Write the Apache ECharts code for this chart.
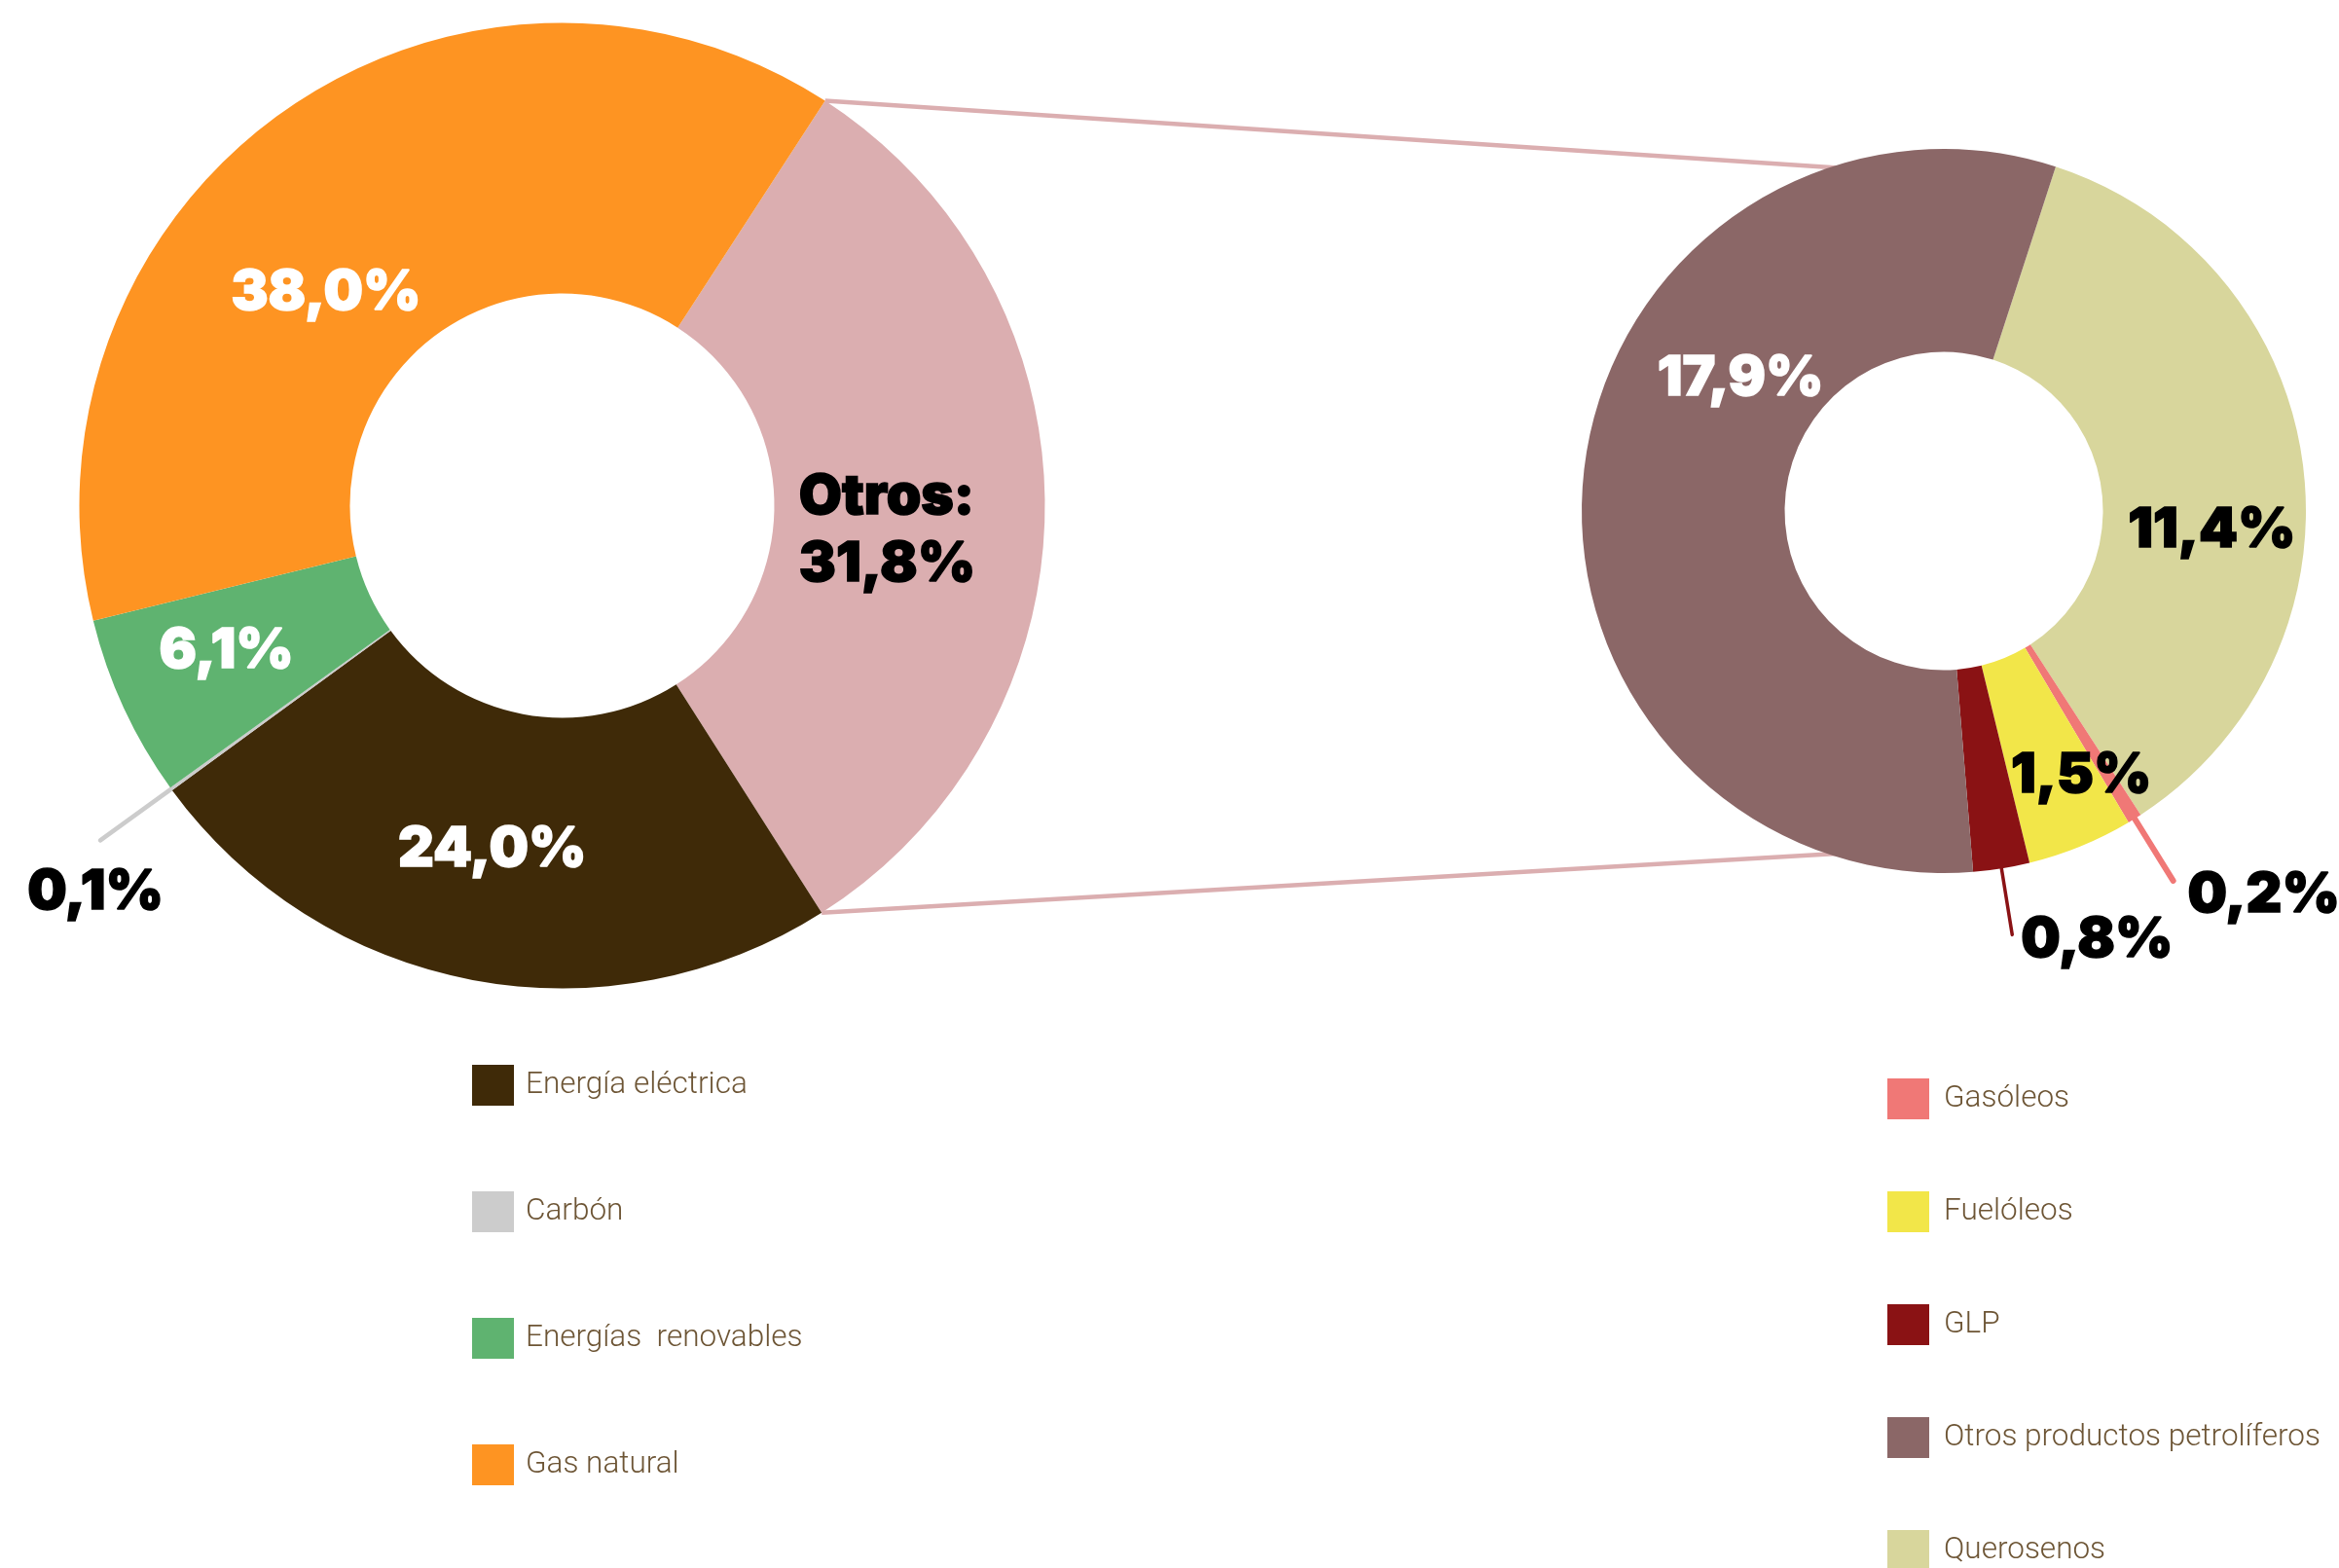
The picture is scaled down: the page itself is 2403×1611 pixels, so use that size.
<!DOCTYPE html>
<html>
<head>
<meta charset="utf-8">
<script src="https://cdn.jsdelivr.net/npm/echarts@6/dist/echarts.min.js"></script>
<style>
  html, body { margin: 0; padding: 0; background: #ffffff; }
  #chart { width: 2403px; height: 1611px; }
</style>
</head>
<body>
<div id="chart"></div>
<script>
// Final energy consumption by source, with the "Otros" share broken down on the right.
const mainNames = ['Otros', 'Energía eléctrica', 'Carbón', 'Energías  renovables', 'Gas natural'];
const mainValues = [31.8, 24.0, 0.1, 6.1, 38.0];

const otherNames = ['Querosenos', 'Gasóleos', 'Fuelóleos', 'GLP', 'Otros productos petrolíferos'];
const otherValues = [11.4, 0.2, 1.5, 0.8, 17.9];

const mainLegend = ['Energía eléctrica', 'Carbón', 'Energías  renovables', 'Gas natural'];
const otherLegend = ['Gasóleos', 'Fuelóleos', 'GLP', 'Otros productos petrolíferos', 'Querosenos'];

// ---- styling -------------------------------------------------------------
const colors = {
  'Otros': '#dbaeb0',
  'Energía eléctrica': '#3f2a08',
  'Carbón': '#cccccc',
  'Energías  renovables': '#5fb370',
  'Gas natural': '#fe9422',
  'Querosenos': '#d8d69c',
  'Gasóleos': '#f07876',
  'Fuelóleos': '#f2e649',
  'GLP': '#8a1214',
  'Otros productos petrolíferos': '#8b6767'
};
const labelColor = {
  'Otros': '#000000', 'Energía eléctrica': '#ffffff', 'Carbón': '#000000',
  'Energías  renovables': '#ffffff', 'Gas natural': '#ffffff',
  'Querosenos': '#000000', 'Gasóleos': '#000000', 'Fuelóleos': '#000000',
  'GLP': '#000000', 'Otros productos petrolíferos': '#ffffff'
};
// small shifts of the inside labels away from the ring's mid radius
const labelNudge = {
  'Otros': [-26, 24],
  'Energía eléctrica': [-5, 0],
  'Energías  renovables': [-18, -2],
  'Gas natural': [-34, 75],
  'Querosenos': [7, 55],
  'Fuelóleos': [39, 21],
  'Otros productos petrolíferos': [60, -105]
};
// callouts for the thin slices: [line length, horizontal gap, vertical drop, line width]
const callout = {
  'Carbón': [90, -65, 53, 4.5],
  'Gasóleos': [75, 15, 15, 6],
  'GLP': [69, 9, 5, 3.5]
};

const MAIN = { center: [577.5, 519.5], radius: [218, 496], startAngle: 57 };
const OTHER = { center: [1997, 525], radius: [163.5, 372], startAngle: 72 };

const FONT = 'Inter, "Noto Sans", "DejaVu Sans", sans-serif';

function bigText(color, extra) {
  return Object.assign({
    fontFamily: FONT, fontWeight: 900, fontSize: 57, color: color,
    textBorderColor: color, textBorderWidth: 1.5
  }, extra || {});
}

const fmt = v => v.toFixed(1).replace('.', ',') + '%';

// padding that moves a centred label by (dx, dy)
function nudge(d) {
  const dx = d[0], dy = d[1];
  return [Math.max(0, 2 * dy), Math.max(0, -2 * dx), Math.max(0, -2 * dy), Math.max(0, 2 * dx)];
}

function buildItems(names, values) {
  return names.map((name, i) => {
    const col = labelColor[name];
    const item = {
      name: name,
      value: values[i],
      itemStyle: { color: colors[name] }
    };
    const label = {
      show: true,
      formatter: p => '{v|' + fmt(p.value) + '}',
      rich: { v: bigText(col) }
    };
    if (callout[name]) {
      const c = callout[name];
      label.position = 'outside';
      label.distanceToLabelLine = c[1];
      label.padding = [2 * c[2], 0, 0, 0];
      item.labelLine = {
        show: true,
        length: c[0],
        length2: 0,
        minTurnAngle: 0,
        lineStyle: { color: colors[name], width: c[3], cap: 'round' }
      };
    } else {
      label.position = 'inside';
      label.padding = nudge(labelNudge[name] || [0, 0]);
    }
    if (name === 'Otros') {
      label.formatter = p => '{v|' + p.name + ':}\n{v|' + fmt(p.value) + '}';
      label.rich = { v: bigText(col, { align: 'left', lineHeight: 69 }) };
    }
    item.label = label;
    return item;
  });
}

function pieSeries(geo, names, values) {
  return {
    type: 'pie',
    center: geo.center,
    radius: geo.radius,
    startAngle: geo.startAngle,
    clockwise: true,
    avoidLabelOverlap: false,
    silent: true,
    animation: false,
    emphasis: { disabled: true },
    itemStyle: { borderWidth: 0 },
    label: { show: true },
    labelLine: { show: false },
    data: buildItems(names, values),
    z: 2
  };
}

// connector lines between the "Otros" slice and the breakdown ring
function polar(c, r, deg) {
  const a = deg * Math.PI / 180;
  return [c[0] + r * Math.cos(a), c[1] - r * Math.sin(a)];
}
const mainTotal = mainValues.reduce((a, b) => a + b, 0);
const otrosSweep = 360 * mainValues[0] / mainTotal;
const fromTop = polar(MAIN.center, MAIN.radius[1], MAIN.startAngle);
const fromBottom = polar(MAIN.center, MAIN.radius[1], MAIN.startAngle - otrosSweep);
const toTop = polar(OTHER.center, OTHER.radius[1] * 0.94, 96);
const toBottom = polar(OTHER.center, OTHER.radius[1] * 0.94, -96);
const connectorStyle = { stroke: '#dbaeb0', lineWidth: 4.5 };

const legendText = {
  fontFamily: 'Roboto, "Noto Sans", sans-serif',
  fontWeight: 300,
  fontSize: 31.5,
  color: '#6d5535'
};

const option = {
  backgroundColor: '#ffffff',
  animation: false,
  graphic: [
    { type: 'line', z: 0, silent: true,
      shape: { x1: fromTop[0], y1: fromTop[1], x2: toTop[0], y2: toTop[1] }, style: connectorStyle },
    { type: 'line', z: 0, silent: true,
      shape: { x1: fromBottom[0], y1: fromBottom[1], x2: toBottom[0], y2: toBottom[1] }, style: connectorStyle }
  ],
  legend: [
    {
      data: mainLegend, orient: 'vertical', left: 485, top: 1094, height: 700, padding: 0,
      itemWidth: 43, itemHeight: 42, itemGap: 88, icon: 'rect', selectedMode: false,
      itemStyle: { borderWidth: 0 },
      textStyle: Object.assign({ padding: [0, 0, 0, 7] }, legendText)
    },
    {
      data: otherLegend, orient: 'vertical', left: 1939, top: 1108, height: 700, padding: 0,
      itemWidth: 43, itemHeight: 42, itemGap: 74, icon: 'rect', selectedMode: false,
      itemStyle: { borderWidth: 0 },
      textStyle: Object.assign({ padding: [0, 0, 0, 10] }, legendText)
    }
  ],
  series: [
    pieSeries(MAIN, mainNames, mainValues),
    pieSeries(OTHER, otherNames, otherValues)
  ]
};

const chart = echarts.init(document.getElementById('chart'), null, { renderer: 'canvas' });
chart.setOption(option);
</script>
</body>
</html>
